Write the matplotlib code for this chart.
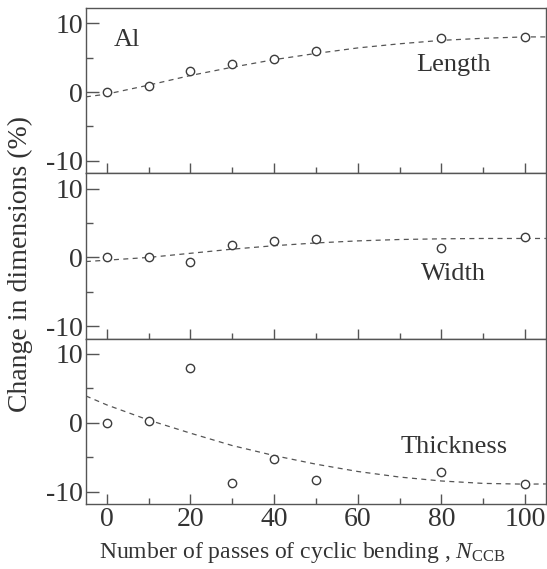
import numpy as np
import matplotlib
matplotlib.use('Agg')
import matplotlib.pyplot as plt
from matplotlib import ticker

plt.rcParams['font.family'] = 'Liberation Serif'
plt.rcParams['mathtext.fontset'] = 'custom'
plt.rcParams['mathtext.it'] = 'Liberation Serif:italic'
plt.rcParams['mathtext.rm'] = 'Liberation Serif'
plt.rcParams['axes.unicode_minus'] = False

# measured points (Al, change in dimensions %)
n_pass = [0, 10, 20, 30, 40, 50, 80, 100]
length = [0.0, 0.9, 3.0, 4.1, 4.8, 5.9, 7.8, 8.0]
width = [0.1, 0.1, -0.7, 1.8, 2.4, 2.7, 1.4, 3.0]
thick = [0.0, 0.2, 8.0, -8.7, -5.3, -8.3, -7.1, -8.9]

# dashed trend lines
fit_x = [-5, 0, 10, 20, 30, 40, 50, 60, 70, 80, 90, 100, 105]
fit_length = [-0.7, -0.3, 1.0, 2.4, 3.6, 4.7, 5.6, 6.4, 7.0, 7.5, 7.8, 8.0, 8.0]
fit_width = [-0.6, -0.4, 0.0, 0.6, 1.2, 1.7, 2.1, 2.4, 2.6, 2.7, 2.75, 2.75, 2.75]
fit_thick = [3.9, 2.6, 0.4, -1.5, -3.3, -4.75, -6.0, -7.06, -7.87, -8.44, -8.79, -8.9, -8.87]

panels = [(length, fit_length, 'Length', 3.9),
          (width, fit_width, 'Width', -2.4),
          (thick, fit_thick, 'Thickness', -3.5)]

fig = plt.figure(figsize=(5.47, 5.69), dpi=100)
fig.subplots_adjust(left=0.157, right=0.998, top=0.986, bottom=0.114, hspace=0)
axes = [fig.add_subplot(3, 1, i + 1) for i in range(3)]

lc = '#3c3c3c'
for ax, (data, fit, name, ty) in zip(axes, panels):
    ax.plot(fit_x, fit, color='#555555', lw=0.9, dashes=(4, 3.5))
    ax.plot(n_pass, data, 'o', ms=6, mfc='white', mec=lc, mew=1.0)
    ax.set_xlim(-5, 105)
    ax.set_ylim(-11.8, 12.2)
    ax.yaxis.set_major_locator(ticker.FixedLocator([-10, 0, 10]))
    ax.yaxis.set_minor_locator(ticker.FixedLocator([-5, 5]))
    ax.xaxis.set_major_locator(ticker.MultipleLocator(20))
    ax.xaxis.set_minor_locator(ticker.MultipleLocator(10))
    ax.tick_params(which='both', direction='in', top=False, right=False,
                   color='#555555', labelsize=20, labelcolor='#333333', pad=2)
    ax.tick_params(axis='y', which='major', length=9, width=1)
    ax.tick_params(axis='y', which='minor', length=5, width=1)
    ax.tick_params(axis='x', which='major', length=7, width=1)
    ax.tick_params(axis='x', which='minor', length=4, width=1)
    for s in ax.spines.values():
        s.set_color('#555555')
        s.set_linewidth(1.0)
    ax.text(83, ty, name, fontsize=19, color='#333333', ha='center', va='center')

for ax in axes[:2]:
    ax.tick_params(axis='x', labelbottom=False)

axes[0].text(1.7, 7.5, 'Al', fontsize=19, color='#333333', ha='left', va='center')

axes[2].set_xlabel(r'Number of passes of cyclic bending , $N_{\mathrm{CCB}}$',
                   fontsize=17, color='#333333')
axes[2].xaxis.set_label_coords(0.47, -0.218)
fig.text(0.038, 0.536, 'Change in dimensions (%)', rotation=90, fontsize=20,
         color='#333333', ha='center', va='center')

fig.savefig('out.png', dpi=100)
plt.close('all')
